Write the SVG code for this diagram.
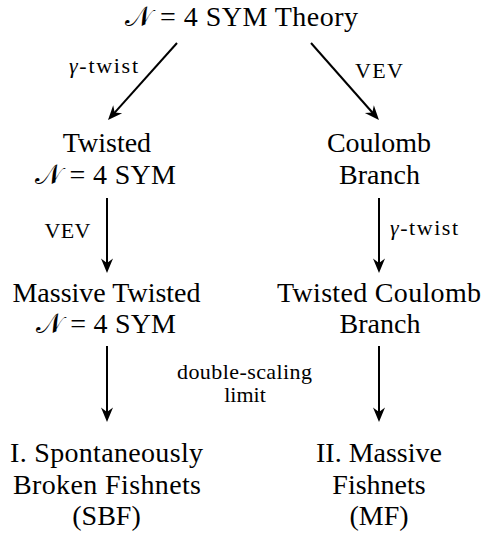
<svg xmlns="http://www.w3.org/2000/svg" width="483" height="533" viewBox="0 0 483 533">
<defs>
<style>
.n{font-family:"Liberation Serif","Times New Roman",serif;font-size:28px;fill:#000;text-anchor:middle}
.l{font-family:"Liberation Serif","Times New Roman",serif;font-size:22px;fill:#000;text-anchor:middle}
.c{stroke:#000;stroke-width:2;fill:none;marker-end:url(#ah)}
.g{font-style:italic}
</style>
<marker id="ah" viewBox="-16 -7 17 14" refX="-9" refY="0" markerWidth="17" markerHeight="14" orient="auto" markerUnits="userSpaceOnUse">
<path d="M0,0 L-14.5,-6 L-10,0 L-14.5,6 Z" fill="#000"/>
</marker>
</defs>
<rect width="483" height="533" fill="#fff"/>
<g id="connectors">
<line class="c" x1="177" y1="43" x2="114" y2="113.3"/>
<line class="c" x1="311" y1="43" x2="373" y2="113.25"/>
<line class="c" x1="107" y1="198" x2="107" y2="264"/>
<line class="c" x1="379" y1="198" x2="379" y2="264"/>
<line class="c" x1="107" y1="346" x2="107" y2="413"/>
<line class="c" x1="379" y1="346" x2="379" y2="413"/>
<text class="l" x="103.5" y="73" textLength="69"><tspan class="g">γ</tspan>-twist</text>
<text class="l" x="379" y="78" textLength="48">VEV</text>
<text class="l" x="67.5" y="238" textLength="46">VEV</text>
<text class="l" x="424" y="235" textLength="68"><tspan class="g">γ</tspan>-twist</text>
<text class="l" x="244.5" y="379" textLength="135">double-scaling</text>
<text class="l" x="245" y="402">limit</text>
</g>
<g id="n-top"><text class="n" x="241.5" y="26" textLength="233">𝒩 = 4 SYM Theory</text></g>
<g id="n-twisted"><text class="n" x="107" y="152">Twisted</text><text class="n" x="105.5" y="184" textLength="141">𝒩 = 4 SYM</text></g>
<g id="n-coulomb"><text class="n" x="379" y="152">Coulomb</text><text class="n" x="379.5" y="184">Branch</text></g>
<g id="n-massive"><text class="n" x="106.5" y="302">Massive Twisted</text><text class="n" x="106" y="333" textLength="140">𝒩 = 4 SYM</text></g>
<g id="n-twcoulomb"><text class="n" x="379" y="302" textLength="204">Twisted Coulomb</text><text class="n" x="380" y="333">Branch</text></g>
<g id="n-sbf"><text class="n" x="106.5" y="462" textLength="193">I. Spontaneously</text><text class="n" x="107" y="494" textLength="188">Broken Fishnets</text><text class="n" x="106.5" y="525">(SBF)</text></g>
<g id="n-mf"><text class="n" x="379" y="462">II. Massive</text><text class="n" x="379" y="494">Fishnets</text><text class="n" x="379" y="525">(MF)</text></g>
</svg>
